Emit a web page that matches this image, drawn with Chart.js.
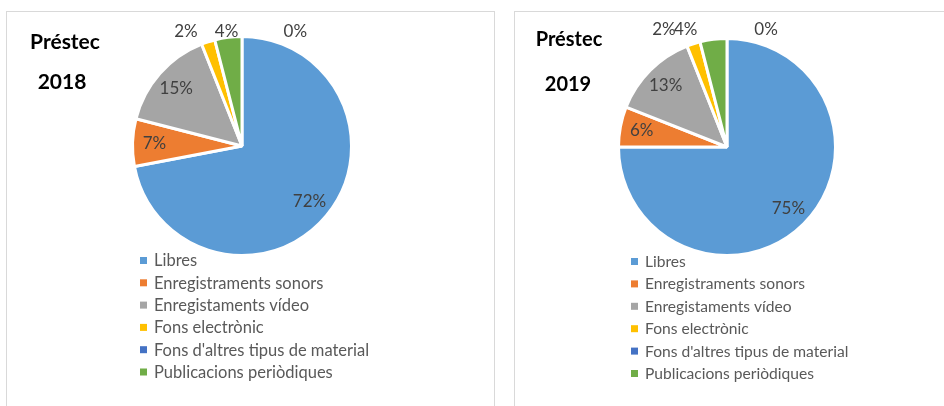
<!DOCTYPE html>
<html>
<head>
<meta charset="utf-8">
<script src="https://cdn.jsdelivr.net/npm/chart.js@4.4.1/dist/chart.umd.min.js"></script>
<style>
  html, body { margin: 0; padding: 0; background: #fff; width: 944px; height: 406px; overflow: hidden; }
  .panel { position: absolute; border: 1px solid #d9d9d9; border-bottom: none; box-sizing: border-box; }
  #p1 { left: 6px; top: 11px; width: 489px; height: 400px; }
  #p2 { left: 514px; top: 11px; width: 440px; height: 400px; border-right: none; }
  .panel canvas { display: block; }
</style>
</head>
<body>
<div class="panel" id="p1"><canvas id="c2018"></canvas></div>
<div class="panel" id="p2"><canvas id="c2019"></canvas></div>
<script>
// categories and values (percent)
const categories = ['Libres', 'Enregistraments sonors', 'Enregistaments vídeo', 'Fons electrònic', "Fons d'altres tipus de material", 'Publicacions periòdiques'];
const values2018 = [72, 7, 15, 2, 0, 4];
const values2019 = [75, 6, 13, 2, 0, 4];
const titleLine1 = 'Préstec';
const years = ['2018', '2019'];

const palette = ['#5B9BD5', '#ED7D31', '#A5A5A5', '#FFC000', '#4472C4', '#70AD47'];
const FONT = 'Lato, "Open Sans", sans-serif';

// percentage labels on/around the slices
const sliceLabels = {
  id: 'sliceLabels',
  afterDatasetsDraw(chart, args, opts) {
    const ctx = chart.ctx;
    const data = chart.data.datasets[0].data;
    const total = data.reduce((a, b) => a + b, 0);
    const meta = chart.getDatasetMeta(0);
    ctx.save();
    ctx.font = opts.size + 'px ' + FONT;
    ctx.fillStyle = '#404040';
    ctx.textAlign = 'center';
    ctx.textBaseline = 'middle';
    meta.data.forEach((arc, i) => {
      const p = arc.getProps(['x', 'y', 'startAngle', 'endAngle', 'outerRadius'], true);
      const frac = data[i] / total;
      const shift = (opts.shift[i] || 0) * Math.PI / 180;
      const mid = (p.startAngle + p.endAngle) / 2 + shift;
      let x, y;
      if (frac >= 0.05) {
        const d = p.outerRadius * opts.inside;
        x = p.x + d * Math.cos(mid);
        y = p.y + d * Math.sin(mid);
      } else {
        const d = p.outerRadius + opts.outside;
        x = p.x + d * Math.cos(mid);
        y = p.y + d * Math.sin(mid);
        if (y < p.y) y = p.y - p.outerRadius - opts.topGap;
      }
      ctx.fillText(Math.round(frac * 100) + '%', x, y);
    });
    ctx.restore();
  }
};

// vertical legend under the pie + two-line title in the corner
const sideText = {
  id: 'sideText',
  afterDraw(chart, args, opts) {
    const ctx = chart.ctx;
    ctx.save();
    ctx.fillStyle = '#000';
    ctx.textAlign = 'center';
    ctx.textBaseline = 'alphabetic';
    ctx.font = 'bold ' + opts.titleSize + 'px ' + FONT;
    opts.title.forEach((t, i) => ctx.fillText(t, opts.titleX[i], opts.titleY[i]));

    ctx.font = opts.legendSize + 'px ' + FONT;
    ctx.textAlign = 'left';
    ctx.textBaseline = 'middle';
    chart.data.labels.forEach((lab, i) => {
      const y = opts.legendY + i * opts.rowH;
      ctx.fillStyle = chart.data.datasets[0].backgroundColor[i];
      ctx.fillRect(opts.legendX, y - 3, 7, 7);
      ctx.fillStyle = '#595959';
      ctx.fillText(lab, opts.legendX + 14, y + 1);
    });
    ctx.restore();
  }
};

function makePie(id, w, h, values, pad, labelOpts, textOpts) {
  const cv = document.getElementById(id);
  cv.style.width = w + 'px';
  cv.style.height = h + 'px';
  cv.width = w; cv.height = h;
  return new Chart(cv, {
    type: 'pie',
    data: {
      labels: categories,
      datasets: [{
        data: values,
        backgroundColor: palette,
        borderColor: '#ffffff',
        borderWidth: 3
      }]
    },
    options: {
      responsive: false,
      animation: false,
      layout: { padding: pad },
      plugins: {
        legend: { display: false },
        tooltip: { enabled: false },
        sliceLabels: labelOpts,
        sideText: textOpts
      }
    },
    plugins: [sliceLabels, sideText]
  });
}

makePie('c2018', 487, 395, values2018,
  { left: 124, right: 141, top: 23, bottom: 150 },
  { size: 17, inside: 0.8, outside: 14, topGap: 5, shift: [0, 0, 0, -9, 40, 0] },
  { title: [titleLine1, years[0]], titleSize: 21, titleX: [58, 55], titleY: [37, 77],
    legendSize: 16.5, legendX: 133, legendY: 248, rowH: 22.3 });

makePie('c2019', 429, 395, values2019,
  { left: 102, right: 107, top: 25, bottom: 150 },
  { size: 17, inside: 0.8, outside: 14, topGap: 9, shift: [0, 0, 0, -13, 33, -12.5] },
  { title: [titleLine1, years[1]], titleSize: 20, titleX: [54, 53], titleY: [34, 79],
    legendSize: 15.6, legendX: 116, legendY: 249, rowH: 22.4 });
</script>
</body>
</html>
